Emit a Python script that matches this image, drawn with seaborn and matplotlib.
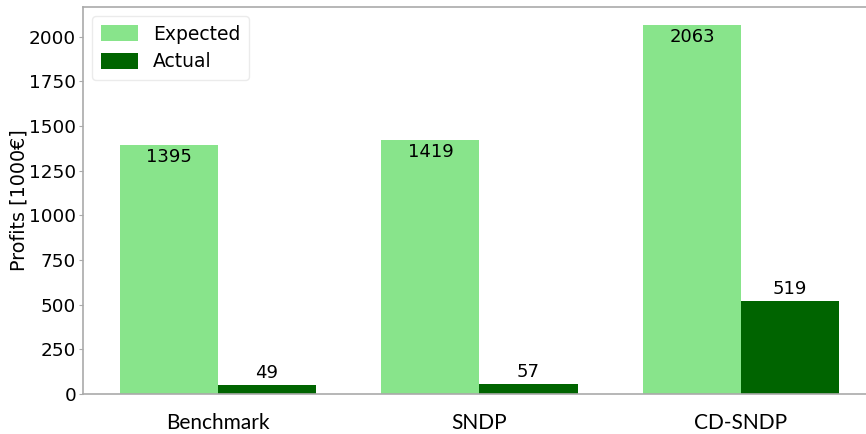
import pandas as pd
import matplotlib
matplotlib.use('Agg')
import matplotlib.pyplot as plt
import seaborn as sns

# Values
models = ['Benchmark', 'SNDP', 'CD-SNDP']
expected = [1395, 1419, 2063]
actual = [49, 57, 519]

df = pd.DataFrame({
    'Model': models * 2,
    'Kind': ['Expected'] * 3 + ['Actual'] * 3,
    'Profit': expected + actual,
})

sns.set_style('white')
plt.rcParams['font.family'] = ['DejaVu Sans']
plt.rcParams['text.color'] = 'black'
plt.rcParams['axes.labelcolor'] = 'black'
plt.rcParams['xtick.color'] = 'black'
plt.rcParams['ytick.color'] = 'black'

fig = plt.figure(figsize=(8.66, 4.34), dpi=100)
ax = fig.add_axes([83 / 866, 40 / 434, 783 / 866, 387 / 434])

sns.barplot(data=df, x='Model', y='Profit', hue='Kind',
            palette=['#88e48b', '#006400'], width=0.75, gap=0,
            saturation=1, ax=ax, edgecolor='none')

# labels: inside top for expected, above for actual
ax.bar_label(ax.containers[0], padding=-15, fontsize=13, color='black')
ax.bar_label(ax.containers[1], padding=2, fontsize=13, color='black')

ax.set_xlim(-0.516, 2.478)
ax.set_ylim(0, 2166)
ax.set_yticks([0, 250, 500, 750, 1000, 1250, 1500, 1750, 2000])
ax.set_xlabel('')
ax.set_ylabel('Profits [1000€]', fontsize=13.8, labelpad=0)

for lbl in ax.get_xticklabels():
    lbl.set_family(['Lato', 'DejaVu Sans'])
    lbl.set_fontsize(15)
ax.tick_params(axis='x', length=0, pad=14)
ax.tick_params(axis='y', labelsize=13.3, length=3, color='#aaaaaa', left=True, pad=2,
               labelcolor='black')

for s in ['left', 'top', 'bottom']:
    ax.spines[s].set_color('#aaaaaa')
    ax.spines[s].set_linewidth(1.2)
ax.spines['right'].set_visible(False)

leg = ax.legend(loc='upper left', fontsize=13.5, handlelength=2.0, handleheight=0.95,
                borderpad=0.45, labelspacing=0.45, handletextpad=0.8,
                frameon=True, title=None)
leg.get_frame().set_edgecolor('#e6e6e6')

plt.savefig('out.png', dpi=100)
